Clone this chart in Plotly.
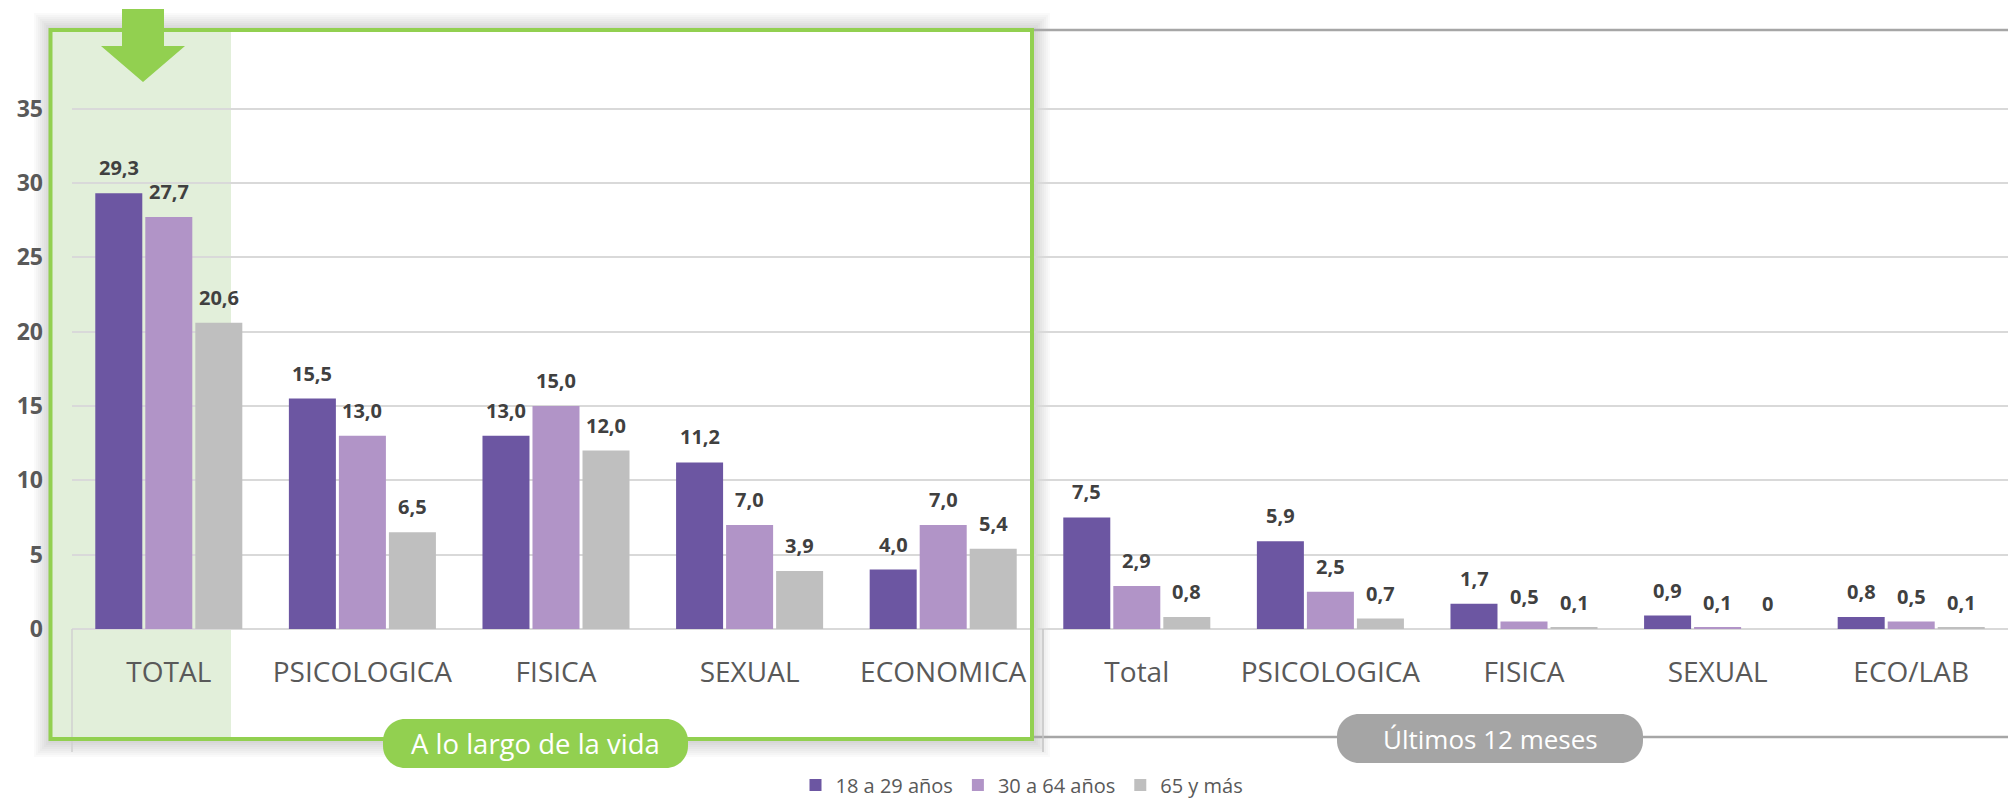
import plotly.graph_objects as go

# ---------------- data ----------------
categories = ["TOTAL", "PSICOLOGICA", "FISICA", "SEXUAL", "ECONOMICA",
              "Total", "PSICOLOGICA", "FISICA", "SEXUAL", "ECO/LAB"]
series_names = ["18 a 29 años", "30 a 64 años", "65 y más"]
age_18_29 = [29.3, 15.5, 13.0, 11.2, 4.0, 7.5, 5.9, 1.7, 0.9, 0.8]
age_30_64 = [27.7, 13.0, 15.0, 7.0, 7.0, 2.9, 2.5, 0.5, 0.1, 0.5]
age_65_plus = [20.6, 6.5, 12.0, 3.9, 5.4, 0.8, 0.7, 0.1, 0.0, 0.1]
y_ticks = [0, 5, 10, 15, 20, 25, 30, 35]
period_labels = ["A lo largo de la vida", "Últimos 12 meses"]

# ---------------- styles ----------------
colors = ["#6C56A2", "#B194C7", "#BFBFBF"]
FONT = "Open Sans"
W, H = 2008, 800
L, R, T, B = 72, 0, 30, 171
PW, PH = W - L - R, H - T - B
PX_PER_UNIT = 14.87


def px(x):
    return (x - L) / PW


def py(y):
    return (H - B - y) / PH


def fmt(v):
    if v == 0:
        return "0"
    return f"{v:.1f}".replace(".", ",")


x_idx = list(range(len(categories)))
series = [age_18_29, age_30_64, age_65_plus]

fig = go.Figure()
for name, vals, col in zip(series_names, series, colors):
    fig.add_trace(go.Bar(
        x=x_idx, y=vals, name=name,
        marker=dict(color=col, line=dict(width=0)),
        hoverinfo="skip",
    ))

# data labels (positioned via axes)
annotations = []
for i, vals in enumerate(series):
    for xi, v in zip(x_idx, vals):
        annotations.append(dict(
            x=xi, y=v, xref="x", yref="y", text=fmt(v), showarrow=False,
            xanchor="center", yanchor="bottom", xshift=(i - 1) * 50, yshift=10,
            font=dict(family=FONT, size=20, color="#404040", weight="bold"),
        ))


def rect(x0, y0, x1, y1, **kw):
    return dict(type="rect", xref="paper", yref="paper",
                x0=px(x0), x1=px(x1), y0=py(y1), y1=py(y0), **kw)


def line(x0, y0, x1, y1, color, width, layer="above"):
    return dict(type="line", xref="paper", yref="paper",
                x0=px(x0), x1=px(x1), y0=py(y0), y1=py(y1),
                line=dict(color=color, width=width), layer=layer)


def pill(x0, y0, x1, y1, r, color):
    k = 0.552 * r
    P = lambda x, y: f"{px(x):.6f},{py(y):.6f}"
    d = (f"M{P(x0 + r, y0)} L{P(x1 - r, y0)} "
         f"C{P(x1 - r + k, y0)} {P(x1, y0 + r - k)} {P(x1, y0 + r)} "
         f"L{P(x1, y1 - r)} "
         f"C{P(x1, y1 - r + k)} {P(x1 - r + k, y1)} {P(x1 - r, y1)} "
         f"L{P(x0 + r, y1)} "
         f"C{P(x0 + r - k, y1)} {P(x0, y1 - r + k)} {P(x0, y1 - r)} "
         f"L{P(x0, y0 + r)} "
         f"C{P(x0, y0 + r - k)} {P(x0 + r - k, y0)} {P(x0 + r, y0)} Z")
    return dict(type="path", xref="paper", yref="paper", path=d,
                fillcolor=color, line=dict(width=0), layer="above")


shapes = []
# soft shadow around the green frame
for i in range(1, 9):
    shapes.append(rect(50 - 2 * i, 29 - 2 * i, 1034 + 2 * i, 741 + 2 * i,
                       fillcolor="rgba(0,0,0,0.02)", line=dict(width=0), layer="below"))
shapes.append(rect(50, 29, 1034, 741, fillcolor="white", line=dict(width=0), layer="below"))
# highlighted TOTAL band
shapes.append(rect(50, 29, 231, 738, fillcolor="#E2EFDA", line=dict(width=0), layer="below"))
# right box lines
shapes.append(line(1034, 30, 2008, 30, "#A6A6A6", 2.5))
shapes.append(line(1034, 737, 2008, 737, "#A6A6A6", 2.5))
# category divider ticks
shapes.append(line(72, 629, 72, 752, "#D0D0D0", 1.5))
shapes.append(line(1043, 629, 1043, 752, "#C4C4C4", 1.5))
# green frame
shapes.append(rect(50.5, 30, 1032, 739, fillcolor="rgba(0,0,0,0)",
                   line=dict(color="#92D050", width=4), layer="above"))
# green arrow
ap = [(122, 9), (164, 9), (164, 46), (185, 46), (143, 82), (101, 46), (122, 46)]
apath = "M" + " L".join(f"{px(a):.6f},{py(b):.6f}" for a, b in ap) + " Z"
shapes.append(dict(type="path", xref="paper", yref="paper", path=apath,
                   fillcolor="#92D050", line=dict(width=0), layer="above"))
# pills
shapes.append(pill(383, 719, 688, 768, 22, "#92D050"))
shapes.append(pill(1337, 714, 1643, 763, 22, "#A5A5A5"))

annotations.append(dict(x=px(535.5), y=py(743.5), xref="paper", yref="paper",
                        text=period_labels[0], showarrow=False,
                        xanchor="center", yanchor="middle",
                        font=dict(family=FONT, size=27.5, color="white")))
annotations.append(dict(x=px(1490), y=py(738.5), xref="paper", yref="paper",
                        text=period_labels[1], showarrow=False,
                        xanchor="center", yanchor="middle",
                        font=dict(family=FONT, size=26, color="white")))

fig.update_layout(
    width=W, height=H,
    margin=dict(l=L, r=R, t=T, b=B, pad=0, autoexpand=False),
    paper_bgcolor="white", plot_bgcolor="rgba(0,0,0,0)",
    barmode="group", bargap=0.225, bargroupgap=0.06,
    font=dict(family=FONT, color="#595959"),
    shapes=shapes, annotations=annotations,
    showlegend=True,
    legend=dict(orientation="h", x=px(1022), xanchor="center",
                y=py(785), yanchor="middle",
                font=dict(family=FONT, size=20, color="#595959"),
                bgcolor="rgba(0,0,0,0)", borderwidth=0, itemclick=False,
                itemwidth=30, tracegroupgap=0),
    xaxis=dict(range=[-0.5, len(categories) - 0.5], tickmode="array",
               tickvals=x_idx, ticktext=categories, automargin=False,
               showgrid=False, zeroline=False, showline=False, ticks="",
               tickfont=dict(family=FONT, size=28, color="#595959"),
               ticklabelstandoff=24, fixedrange=True),
    yaxis=dict(range=[0, PH / PX_PER_UNIT], tickmode="array", tickvals=y_ticks,
               automargin=False,
               showgrid=True, gridcolor="#D9D9D9", gridwidth=1.5,
               zeroline=True, zerolinecolor="#D9D9D9", zerolinewidth=2,
               showline=False, ticks="",
               tickfont=dict(family=FONT, size=23, color="#595959", weight="bold"),
               ticklabelstandoff=28, fixedrange=True),
)

fig.write_html("out.html", config={"displayModeBar": False, "responsive": False},
               post_script="document.body.style.margin='0';document.body.style.overflow='hidden';")
